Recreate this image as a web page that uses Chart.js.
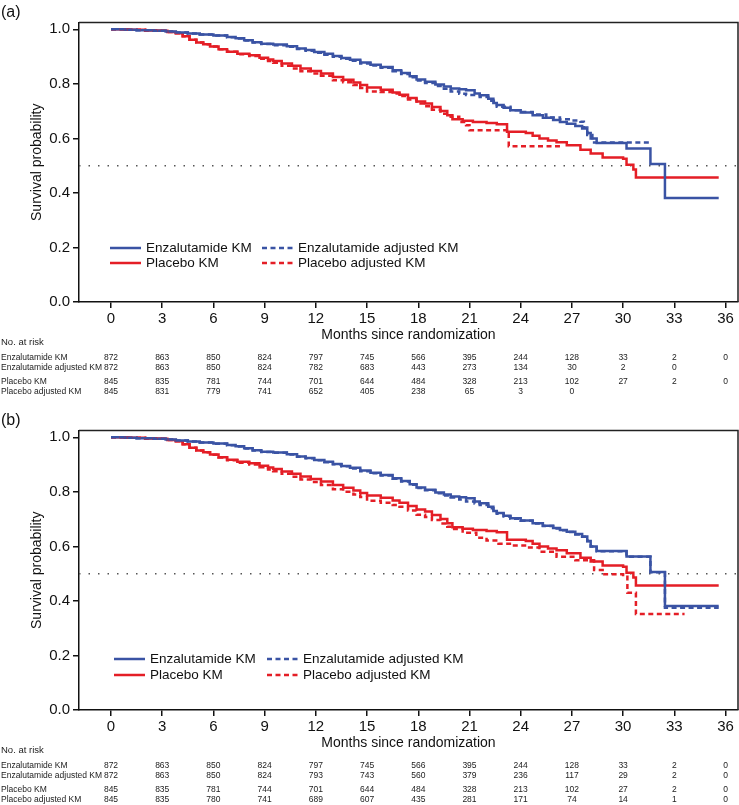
<!DOCTYPE html>
<html>
<head>
<meta charset="utf-8">
<title>Kaplan-Meier curves</title>
<script src="https://cdn.jsdelivr.net/npm/chart.js@4.4.1/dist/chart.umd.min.js"></script>
<style>
  html, body { margin: 0; padding: 0; background: #fff; overflow: hidden; }
  .panel { position: relative; width: 739px; height: 408px; }
  .panel canvas { display: block; }
  .tag { position: absolute; left: 1px; top: 3px; font: 16px "Liberation Sans", Arial, sans-serif; color: #111; }
</style>
</head>
<body>
<div class="panel"><span class="tag">(a)</span><canvas id="chartA" width="739" height="408"></canvas></div>
<div class="panel"><span class="tag">(b)</span><canvas id="chartB" width="739" height="408"></canvas></div>
<script>
// axis ticks
const monthTicks = [0, 3, 6, 9, 12, 15, 18, 21, 24, 27, 30, 33, 36];
const survTicks = [0, 0.2, 0.4, 0.6, 0.8, 1.0];
const medianLevel = 0.5;

// [month, survival] steps
const enzaKm = [[0,1.000],[0.8,0.998],[1.5,0.997],[2.5,0.995],[3.2,0.992],[3.8,0.988],[4.5,0.985],[5.2,0.981],[6.0,0.977],[6.8,0.972],[7.3,0.967],[7.8,0.960],[8.3,0.953],[8.8,0.947],[9.5,0.944],[10.3,0.938],[10.9,0.930],[11.4,0.924],[11.9,0.917],[12.5,0.910],[13.0,0.902],[13.5,0.895],[14.0,0.888],[14.6,0.878],[15.2,0.870],[15.8,0.862],[16.5,0.850],[17.0,0.840],[17.5,0.828],[17.9,0.816],[18.4,0.808],[19.0,0.798],[19.5,0.790],[19.9,0.783],[20.4,0.780],[20.8,0.777],[21.3,0.765],[21.6,0.758],[22.1,0.745],[22.4,0.730],[22.6,0.722],[23.0,0.712],[23.4,0.703],[24.0,0.695],[24.7,0.685],[25.3,0.676],[25.9,0.667],[26.3,0.660],[26.7,0.654],[27.2,0.645],[27.6,0.636],[27.9,0.620],[28.1,0.600],[28.45,0.583],[30.2,0.563],[31.6,0.506],[32.45,0.381],[35.6,0.381]];
const placKm = [[0,1.000],[1.0,0.998],[2.0,0.996],[2.9,0.995],[3.3,0.990],[3.8,0.986],[4.2,0.975],[4.6,0.962],[5.0,0.952],[5.4,0.945],[5.8,0.937],[6.3,0.927],[6.8,0.918],[7.4,0.910],[8.1,0.905],[8.7,0.896],[9.2,0.889],[9.5,0.884],[10.0,0.875],[10.6,0.866],[11.1,0.856],[11.7,0.847],[12.3,0.838],[13.0,0.825],[13.6,0.815],[14.2,0.805],[14.6,0.796],[15.0,0.787],[15.8,0.778],[16.5,0.768],[16.9,0.760],[17.4,0.748],[17.9,0.735],[18.4,0.728],[18.8,0.715],[19.3,0.700],[19.7,0.685],[20.0,0.670],[20.6,0.665],[21.2,0.660],[22.0,0.656],[22.6,0.652],[23.2,0.624],[24.3,0.620],[24.7,0.610],[25.1,0.600],[25.6,0.592],[26.1,0.586],[26.7,0.575],[27.5,0.558],[28.1,0.545],[28.8,0.530],[30.0,0.525],[30.2,0.503],[30.6,0.486],[30.75,0.457],[35.6,0.457]];

// panel (a) adjusted
const enzaAdjA = [[0,1.000],[0.8,0.998],[1.5,0.997],[2.5,0.995],[3.2,0.992],[3.8,0.988],[4.5,0.985],[5.2,0.981],[6.0,0.977],[6.8,0.971],[7.3,0.966],[7.8,0.959],[8.3,0.952],[8.8,0.946],[9.5,0.942],[10.3,0.936],[10.9,0.928],[11.4,0.921],[11.9,0.914],[12.5,0.907],[13.0,0.899],[13.5,0.892],[14.0,0.885],[14.6,0.875],[15.2,0.867],[15.8,0.859],[16.5,0.846],[17.0,0.836],[17.5,0.824],[17.9,0.812],[18.4,0.803],[19.0,0.792],[19.5,0.782],[19.9,0.772],[20.4,0.764],[20.8,0.759],[21.6,0.752],[22.1,0.738],[22.6,0.716],[23.4,0.703],[24.0,0.697],[24.7,0.688],[25.5,0.677],[26.3,0.670],[27.0,0.666],[27.5,0.661],[27.7,0.640],[27.9,0.612],[28.2,0.585],[31.6,0.585]];
const placAdjA = [[0,1.000],[1.0,0.998],[2.0,0.996],[2.9,0.995],[3.3,0.990],[3.8,0.986],[4.2,0.975],[4.6,0.962],[5.0,0.952],[5.4,0.945],[5.8,0.937],[6.3,0.927],[6.8,0.918],[7.4,0.909],[8.1,0.902],[8.7,0.892],[9.2,0.884],[9.5,0.877],[10.0,0.866],[10.6,0.856],[11.1,0.846],[11.7,0.838],[12.3,0.830],[13.0,0.813],[13.6,0.806],[14.2,0.796],[14.6,0.785],[15.0,0.772],[15.8,0.770],[16.5,0.765],[16.9,0.755],[17.4,0.743],[17.9,0.728],[18.4,0.718],[18.8,0.705],[19.3,0.690],[19.9,0.679],[20.4,0.660],[20.8,0.648],[21.0,0.630],[23.3,0.571],[26.3,0.571]];

// panel (b) adjusted
const enzaAdjB = [[0,1.000],[0.8,0.998],[1.5,0.997],[2.5,0.995],[3.2,0.992],[3.8,0.988],[4.5,0.985],[5.2,0.981],[6.0,0.976],[6.8,0.971],[7.3,0.966],[7.8,0.959],[8.3,0.952],[8.8,0.946],[9.5,0.943],[10.3,0.937],[10.9,0.929],[11.4,0.923],[11.9,0.916],[12.5,0.909],[13.0,0.901],[13.5,0.894],[14.0,0.886],[14.6,0.876],[15.2,0.868],[15.8,0.860],[16.5,0.848],[17.0,0.838],[17.5,0.826],[17.9,0.814],[18.4,0.806],[19.0,0.795],[19.5,0.787],[19.9,0.779],[20.4,0.772],[20.8,0.765],[21.3,0.757],[21.6,0.752],[22.1,0.740],[22.4,0.728],[22.6,0.720],[23.0,0.710],[23.4,0.701],[24.0,0.694],[24.7,0.684],[25.3,0.675],[25.9,0.666],[26.3,0.659],[26.7,0.653],[27.2,0.644],[27.6,0.635],[27.9,0.619],[28.1,0.600],[28.45,0.582],[30.2,0.562],[31.6,0.505],[32.45,0.375],[35.6,0.375]];
const placAdjB = [[0,1.000],[1.0,0.998],[2.0,0.996],[2.9,0.995],[3.3,0.990],[3.8,0.986],[4.2,0.975],[4.6,0.962],[5.0,0.952],[5.4,0.945],[5.8,0.936],[6.3,0.926],[6.8,0.916],[7.4,0.907],[8.1,0.900],[8.7,0.890],[9.2,0.882],[9.5,0.876],[10.0,0.866],[10.6,0.855],[11.1,0.845],[11.7,0.836],[12.3,0.825],[13.0,0.810],[13.6,0.800],[14.2,0.790],[14.6,0.781],[15.0,0.767],[15.8,0.760],[16.5,0.752],[16.9,0.745],[17.4,0.732],[17.9,0.716],[18.4,0.708],[18.8,0.697],[19.3,0.684],[19.7,0.672],[20.0,0.664],[20.6,0.650],[21.4,0.632],[22.0,0.622],[22.7,0.610],[23.5,0.603],[24.4,0.596],[25.1,0.580],[26.1,0.562],[27.2,0.549],[28.3,0.513],[28.8,0.498],[30.0,0.495],[30.25,0.430],[30.75,0.352],[33.6,0.352]];

// numbers at risk
const riskLabels = ['Enzalutamide KM', 'Enzalutamide adjusted KM', 'Placebo KM', 'Placebo adjusted KM'];
const riskEnzaKm = [872, 863, 850, 824, 797, 745, 566, 395, 244, 128, 33, 2, 0];
const riskPlacKm = [845, 835, 781, 744, 701, 644, 484, 328, 213, 102, 27, 2, 0];
const riskEnzaAdjA = [872, 863, 850, 824, 782, 683, 443, 273, 134, 30, 2, 0];
const riskPlacAdjA = [845, 831, 779, 741, 652, 405, 238, 65, 3, 0];
const riskEnzaAdjB = [872, 863, 850, 824, 793, 743, 560, 379, 236, 117, 29, 2, 0];
const riskPlacAdjB = [845, 835, 780, 741, 689, 607, 435, 281, 171, 74, 14, 1, 0];

const BLUE = '#3a53a4';
const RED = '#e41e26';
const FONT = '"Liberation Sans", Arial, sans-serif';
const xMin = -1.875, xMax = 36.73;

function steps(pairs) {
    return pairs.map(p => ({ x: p[0], y: p[1] }));
}

// frame, legend and at-risk table
const kmExtras = {
    id: 'kmExtras',
    afterDraw(chart, args, opts) {
        let ctx = chart.ctx;
        let a = chart.chartArea;
        let xs = chart.scales.x;
        ctx.save();
        ctx.strokeStyle = '#222';
        ctx.lineWidth = 1.5;
        ctx.beginPath();
        ctx.moveTo(a.left, a.top);
        ctx.lineTo(a.right, a.top);
        ctx.lineTo(a.right, a.bottom);
        ctx.stroke();

        // legend, two columns
        ctx.font = '13.5px ' + FONT;
        ctx.textBaseline = 'middle';
        ctx.textAlign = 'left';
        chart.data.datasets.forEach(ds => {
            if (ds.legendCol === undefined) return;
            let lx = opts.legendX[ds.legendCol];
            let ly = opts.legendY[ds.legendRow];
            ctx.strokeStyle = ds.borderColor;
            ctx.lineWidth = 2.5;
            ctx.setLineDash(ds.borderDash || []);
            ctx.beginPath();
            ctx.moveTo(lx, ly);
            ctx.lineTo(lx + 31, ly);
            ctx.stroke();
            ctx.setLineDash([]);
            ctx.fillStyle = '#111';
            ctx.fillText(ds.label, lx + 36, ly);
        });

        // number at risk
        ctx.fillStyle = '#222';
        ctx.font = '9.5px ' + FONT;
        ctx.fillText('No. at risk', 1, a.bottom + opts.headOffset);
        ctx.font = '8.5px ' + FONT;
        opts.rows.forEach((vals, r) => {
            let yy = a.bottom + opts.rowOffsets[r];
            ctx.textAlign = 'left';
            ctx.fillText(riskLabels[r], 1, yy);
            ctx.textAlign = 'center';
            vals.forEach((v, i) => {
                ctx.fillText(String(v), xs.getPixelForValue(monthTicks[i]), yy);
            });
        });
        ctx.restore();
    }
};

function makeChart(id, enzaAdj, placAdj, rows, legendX, legendY) {
    let dash = [5, 3.5];
    return new Chart(document.getElementById(id).getContext('2d'), {
        type: 'line',
        data: {
            datasets: [
                { label: 'Enzalutamide adjusted KM', data: steps(enzaAdj), borderColor: BLUE, borderDash: dash, legendCol: 1, legendRow: 0 },
                { label: 'Placebo adjusted KM', data: steps(placAdj), borderColor: RED, borderDash: dash, legendCol: 1, legendRow: 1 },
                { label: 'Enzalutamide KM', data: steps(enzaKm), borderColor: BLUE, legendCol: 0, legendRow: 0 },
                { label: 'Placebo KM', data: steps(placKm), borderColor: RED, legendCol: 0, legendRow: 1 },
                { label: 'median', data: [{ x: xMin, y: medianLevel }, { x: xMax, y: medianLevel }], borderColor: '#555', borderWidth: 1.5, borderDash: [1.5, 8], stepped: false }
            ].map(d => Object.assign({ stepped: true, borderWidth: 2.5, pointRadius: 0, fill: false }, d))
        },
        options: {
            responsive: false,
            animation: false,
            devicePixelRatio: 1,
            layout: { padding: { top: 22.5, right: 1, left: 0, bottom: 0 } },
            plugins: {
                legend: { display: false },
                tooltip: { enabled: false },
                kmExtras: { rows: rows, headOffset: 40, rowOffsets: [56, 66, 80, 90], legendX: legendX, legendY: legendY }
            },
            scales: {
                x: {
                    type: 'linear',
                    min: xMin,
                    max: xMax,
                    afterBuildTicks: s => { s.ticks = monthTicks.map(v => ({ value: v })); },
                    afterFit: s => { s.height = 106; },
                    ticks: { font: { size: 15, family: FONT }, color: '#111', padding: 2, maxRotation: 0, autoSkip: false },
                    grid: { drawOnChartArea: false, tickLength: 6, color: '#111', lineWidth: 1.5 },
                    border: { color: '#111', width: 1.5 },
                    title: { display: true, text: 'Months since randomization', color: '#111', font: { size: 14, family: FONT }, padding: { top: 0, bottom: 64.6 } }
                },
                y: {
                    type: 'linear',
                    min: 0,
                    max: 1.025,
                    afterBuildTicks: s => { s.ticks = survTicks.map(v => ({ value: v })); },
                    afterFit: s => { s.width = 79; },
                    ticks: { font: { size: 15, family: FONT }, color: '#111', padding: 3, callback: v => v.toFixed(1) },
                    grid: { drawOnChartArea: false, tickLength: 6, color: '#111', lineWidth: 1.5 },
                    border: { color: '#111', width: 1.5 },
                    title: { display: true, text: 'Survival probability', color: '#111', font: { size: 14, family: FONT }, padding: { top: 28.6, bottom: 0 } }
                }
            }
        },
        plugins: [kmExtras]
    });
}

makeChart('chartA', enzaAdjA, placAdjA, [riskEnzaKm, riskEnzaAdjA, riskPlacKm, riskPlacAdjA], [110, 262], [248, 263]);
makeChart('chartB', enzaAdjB, placAdjB, [riskEnzaKm, riskEnzaAdjB, riskPlacKm, riskPlacAdjB], [114, 267], [251, 267]);
</script>
</body>
</html>
